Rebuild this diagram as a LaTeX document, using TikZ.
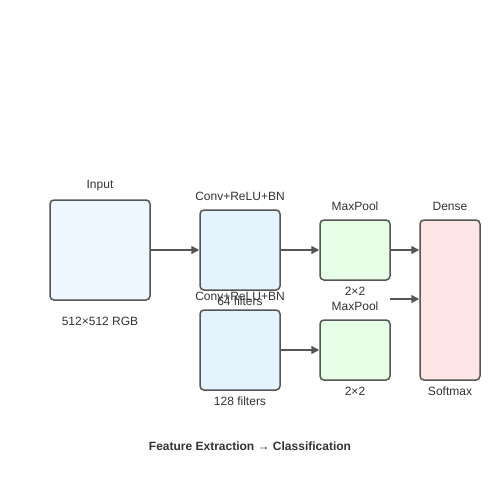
\documentclass[tikz,border=0pt]{standalone}
\usepackage{fontspec}
\setmainfont{Liberation Sans}
\usetikzlibrary{arrows.meta}
\definecolor{edge}{HTML}{555555}
\definecolor{txt}{HTML}{333333}
\definecolor{inblue}{HTML}{EEF6FF}
\definecolor{convblue}{HTML}{E3F4FD}
\definecolor{poolgreen}{HTML}{E6FFE6}
\definecolor{densered}{HTML}{FFE6E6}
\begin{document}
\begin{tikzpicture}[x=1pt,y=-1pt,
  blk/.style={draw=edge,line width=1.5pt,rounded corners=4pt,inner sep=0pt},
  lbl/.style={font=\fontsize{12}{14}\selectfont,text=txt,inner sep=0pt},
  conn/.style={draw=edge,line width=1.5pt,-{Triangle[length=8pt,width=8pt]}}]
\useasboundingbox[fill=white] (0,0) rectangle (500,500);
\node[blk,fill=inblue,minimum width=100pt,minimum height=100pt] (in) at (100,250) {};
\node[blk,fill=convblue,minimum width=80pt,minimum height=80pt] (c1) at (240,250) {};
\node[blk,fill=convblue,minimum width=80pt,minimum height=80pt] (c2) at (240,350) {};
\node[blk,fill=poolgreen,minimum width=70pt,minimum height=60pt] (p1) at (355,250) {};
\node[blk,fill=poolgreen,minimum width=70pt,minimum height=60pt] (p2) at (355,350) {};
\node[blk,fill=densered,minimum width=60pt,minimum height=160pt] (d) at (450,300) {};
\node[lbl] (tin) at (100,186) {Input};
\node[lbl] (bin) at (100,321) {512×512 RGB};
\node[lbl] (tc1) at (240,196) {Conv+ReLU+BN};
\node[lbl] (bc1) at (240,301) {64 filters};
\node[lbl] (tc2) at (240,296) {Conv+ReLU+BN};
\node[lbl] (bc2) at (240,401) {128 filters};
\node[lbl] (tp1) at (355,206) {MaxPool};
\node[lbl] (bp1) at (355,291) {2×2};
\node[lbl] (tp2) at (355,306) {MaxPool};
\node[lbl] (bp2) at (355,391) {2×2};
\node[lbl] (td) at (450,206) {Dense};
\node[lbl] (bd) at (450,391) {Softmax};
\node[lbl,font=\fontsize{12}{14}\selectfont\bfseries] (title) at (250,446) {Feature Extraction → Classification};
\coordinate (free) at (390,299);
\draw[conn] (in.east) -- (c1.west);
\draw[conn] (c1.east) -- (p1.west);
\draw[conn] (p1.east) -- (d.west |- p1.east);
\draw[conn] (free) -- (d.west |- free);
\draw[conn] (c2.east) -- (p2.west);
\end{tikzpicture}
\end{document}
